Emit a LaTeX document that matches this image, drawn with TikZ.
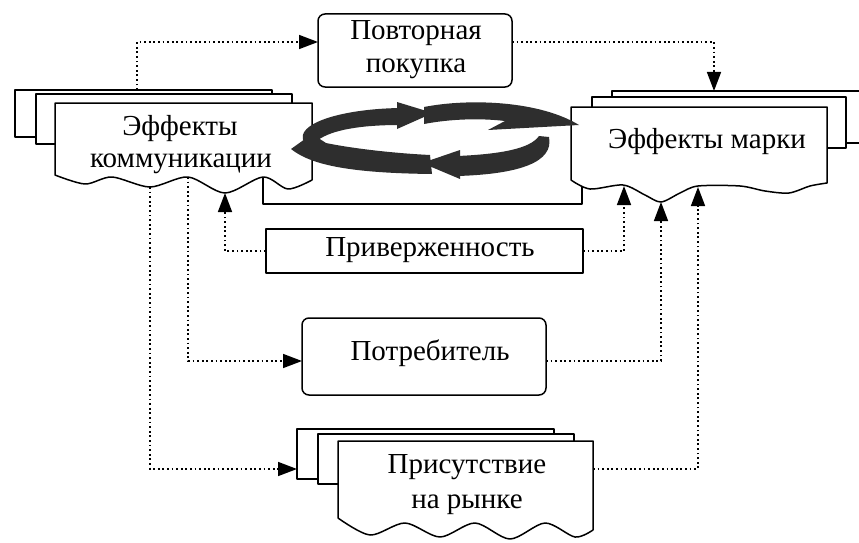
\documentclass[tikz,border=0pt]{standalone}
\usepackage{fontspec}
\setmainfont{Liberation Serif}
\usetikzlibrary{arrows.meta}
\begin{document}
\begin{tikzpicture}[x=1pt,y=-1pt,
  every node/.style={inner sep=0pt, outer sep=0pt},
  ln/.style={line width=1.5pt, line join=round},
  sheet/.style={ln, draw=black, fill=white},
  sqbox/.style={ln, draw=black, fill=white, rectangle},
  rbox/.style={ln, draw=black, fill=white, rectangle, rounded corners=7pt},
  txt/.style={font=\fontsize{29}{33}\selectfont, anchor=base},
  con/.style={line width=1.5pt, dash pattern=on 1.8pt off 2.8pt, -{Triangle[length=19pt,width=14pt]}},
  cyc/.style={fill=black!82}]
\path[use as bounding box] (0,0) rectangle (859,543);
\clip (0,0) rectangle (859,543);
\fill[white] (0,0) rectangle (859,543);

% U-shaped frame behind the cycle
\draw[ln] (263,170) -- (263,204) -- (582,204) -- (582,170);

% left multi-document
\draw[sheet] (15,90) rectangle (272,137);
\draw[sheet] (36,94) rectangle (292,144);
\draw[sheet] (55,103) -- (312,103) -- (312,180) -- plot[smooth] coordinates {(312,180) (288,189) (263,177) (225,193) (188,177) (150,187) (112,177) (85,184) (55,175)} -- cycle;

% right multi-document
\draw[sheet] (612,91) rectangle (880,143);
\draw[sheet] (592,97) rectangle (846,148);
\draw[sheet] (571,107) -- (827,107) -- (827,183) -- plot[smooth] coordinates {(827,183) (810,186) (789,193) (765,191) (740,186) (698,186) (680,193) (661,202) (645,195) (623,185) (590,189) (571,180)} -- cycle;

% bottom multi-document
\draw[sheet] (297,429) rectangle (554,479);
\draw[sheet] (318,434) rectangle (574,484);
\draw[sheet] (338,441) -- (593,441) -- plot[smooth] coordinates {(593,530) (575,537) (545,523) (510,539) (475,523) (440,537) (405,523) (370,535) (338,518)} -- cycle;

% cycle arrows
\fill[cyc] (304,142) .. controls (294,124) and (340,109) .. (400,108) -- (400,125) .. controls (360,125) and (332,130) .. (318,140) -- cycle;
\fill[cyc] (397,102) -- (433,113) -- (397,129) -- cycle;
\fill[cyc] (424,107) .. controls (470,98) and (540,101) .. (579,125) -- (488,130) -- (505,121) .. controls (480,118) and (450,119) .. (424,124) -- cycle;
\fill[cyc] (549,137) .. controls (554,162) and (520,174) .. (458,176) -- (458,156) .. controls (500,154) and (530,149) .. (539,136) -- cycle;
\fill[cyc] (460,150) -- (422,163) -- (460,179) -- cycle;
\fill[cyc] (430,155) .. controls (390,153) and (350,148) .. (326,143) -- (312,134) -- (291,149) .. controls (310,164) and (345,173) .. (432,174) -- cycle;

% boxes
\node[rbox, minimum width=194pt, minimum height=73pt] (povt) at (415,50.5) {};
\node[sqbox, minimum width=317pt, minimum height=44pt] (priv) at (424.5,251) {};
\node[rbox, minimum width=244pt, minimum height=77pt] (potr) at (424,356.5) {};

% connector end points on the documents
\coordinate (lt) at (137,90);
\coordinate (rt) at (714,91);
\coordinate (lw1) at (225,193);
\coordinate (lb2) at (188,177);
\coordinate (lb3) at (150,187);
\coordinate (rw1) at (624,186);
\coordinate (rw2) at (661,202);
\coordinate (rw3) at (698,187);
\coordinate (pw) at (297,469);
\coordinate (pe) at (593,469);

% connectors
\draw[con] (lt) |- ([yshift=8.5pt]povt.west);
\draw[con] ([yshift=8.5pt]povt.east) -| (rt);
\draw[con] (priv.west) -| (lw1);
\draw[con] (priv.east) -| (rw1);
\draw[con] (lb2) |- ([yshift=-4.5pt]potr.west);
\draw[con] ([yshift=-4.5pt]potr.east) -| (rw2);
\draw[con] (lb3) |- (pw);
\draw[con] (pe) -| (rw3);

% texts
\node[txt] (t1a) at (416,40) {Повторная};
\node[txt] (t1b) at (416,73) {покупка};
\node[txt] (t2a) at (180,135) {Эффекты};
\node[txt] (t2b) at (181,167) {коммуникации};
\node[txt] (t3) at (707,148) {Эффекты марки};
\node[txt] (t4) at (430,256) {Приверженность};
\node[txt] (t5) at (430,360) {Потребитель};
\node[txt] (t6a) at (467,473) {Присутствие};
\node[txt] (t6b) at (467,508) {на рынке};
\end{tikzpicture}
\end{document}
